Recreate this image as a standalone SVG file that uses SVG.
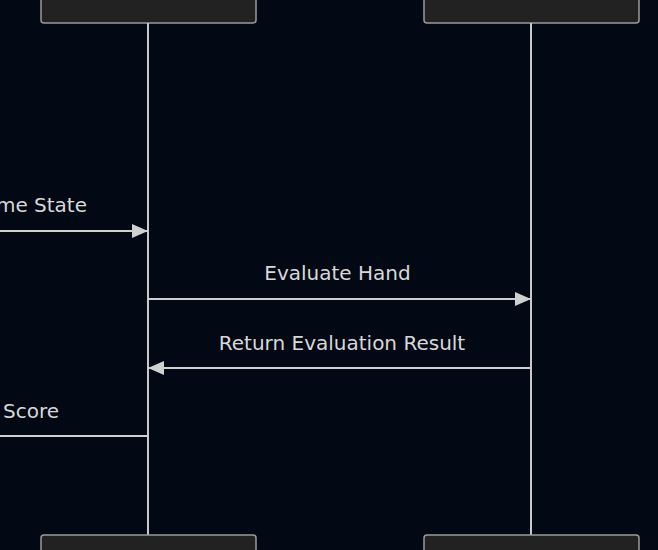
<svg xmlns="http://www.w3.org/2000/svg" width="658" height="550" viewBox="0 0 658 550">
<defs>
<marker id="ah" markerWidth="16" markerHeight="14" refX="16" refY="7" orient="auto" markerUnits="userSpaceOnUse" viewBox="0 0 16 14">
<path d="M0,0 L16,7 L0,14 z" fill="#d0d0d0"/>
</marker>
<style>
.box{fill:#222222;stroke:#9a9a9a;stroke-width:1.5}
.life{stroke:#c8c8c8;stroke-width:2}
.msg{stroke:#d0d0d0;stroke-width:2;fill:none}
.lbl{font-family:"DejaVu Sans","Open Sans",sans-serif;font-size:20px;fill:#d8d8d8}
</style>
</defs>
<rect width="658" height="550" fill="#020814"/>
<g id="participant-left">
<rect class="box" x="41" y="-10" width="215" height="33" rx="3"/>
<line class="life" x1="148" y1="23" x2="148" y2="535"/>
<rect class="box" x="41" y="535" width="215" height="30" rx="3"/>
</g>
<g id="participant-right">
<rect class="box" x="424" y="-10" width="215" height="33" rx="3"/>
<line class="life" x1="531" y1="23" x2="531" y2="535"/>
<rect class="box" x="424" y="535" width="215" height="30" rx="3"/>
</g>
<g id="connectors">
<line class="msg" x1="-5" y1="231" x2="148" y2="231" marker-end="url(#ah)"/>
<text class="lbl" x="87" y="212" text-anchor="end">me State</text>
<line class="msg" x1="148" y1="299" x2="531" y2="299" marker-end="url(#ah)"/>
<text class="lbl" x="337.5" y="280" text-anchor="middle">Evaluate Hand</text>
<line class="msg" x1="531" y1="368" x2="148" y2="368" marker-end="url(#ah)"/>
<text class="lbl" x="342" y="350" text-anchor="middle">Return Evaluation Result</text>
<line class="msg" x1="148" y1="436" x2="-5" y2="436"/>
<text class="lbl" x="3" y="418">Score</text>
</g>
</svg>
